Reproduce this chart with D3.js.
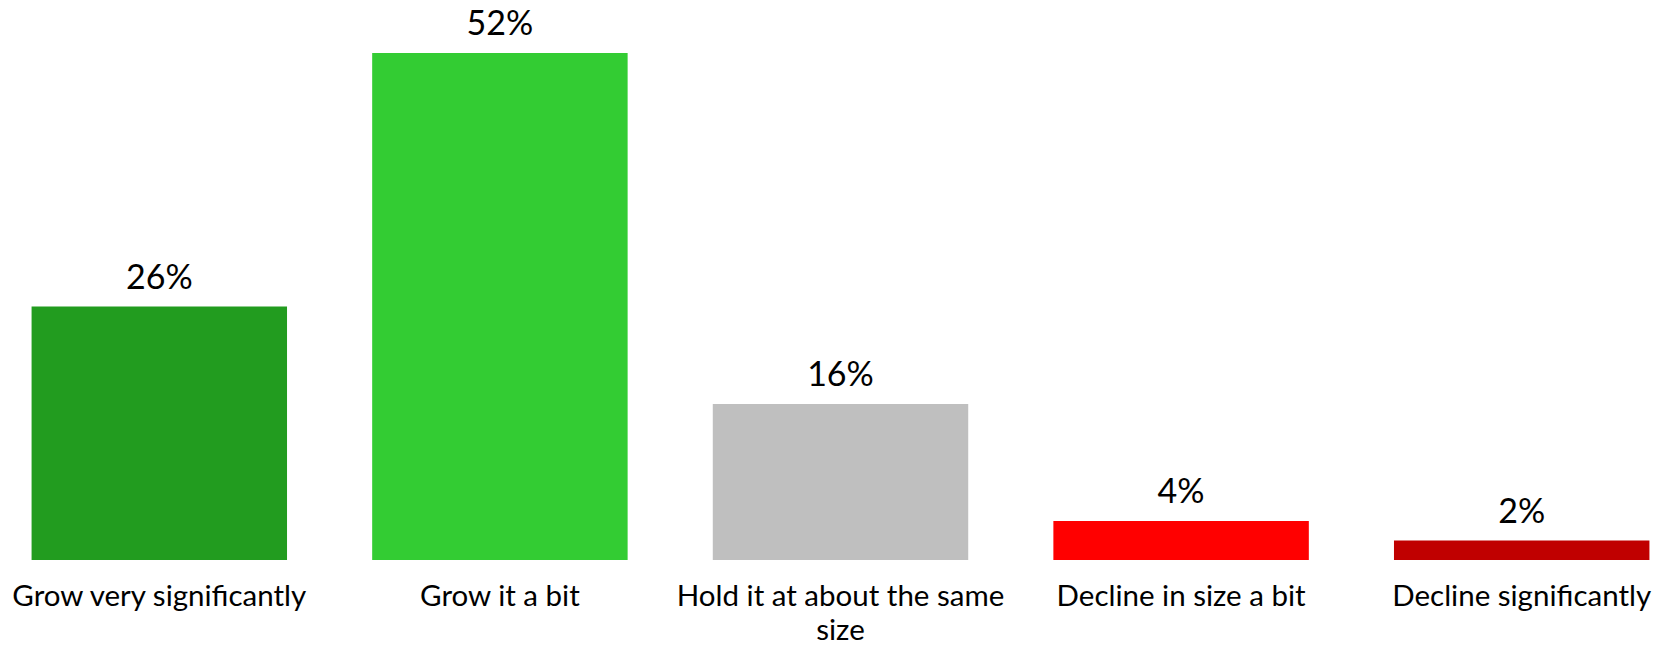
<!DOCTYPE html>
<html>
<head>
<meta charset="utf-8">
<script src="https://cdn.jsdelivr.net/npm/d3@7"></script>
<style>
  html, body { margin: 0; padding: 0; background: #fff; }
  svg { display: block; }
  text { font-family: Lato, "Open Sans", sans-serif; fill: #000; }
</style>
</head>
<body>
<svg id="chart" width="1662" height="646"></svg>
<script>
const categories = ["Grow very significantly", "Grow it a bit", "Hold it at about the same size", "Decline in size a bit", "Decline significantly"];
const values = [26, 52, 16, 4, 2];
const valueLabels = ["26%", "52%", "16%", "4%", "2%"];
const colors = ["#229C1F", "#33CC33", "#BFBFBF", "#FF0000", "#C00000"];

const W = 1662, H = 646;
const svg = d3.select("#chart");

const x = d3.scaleBand()
  .domain(categories)
  .range([-11, 1692])
  .paddingInner(0.25)
  .paddingOuter(0.125);

const baseY = 560;
const y = d3.scaleLinear()
  .domain([0, 52])
  .range([baseY, 53]);

const data = categories.map((c, i) => ({ c, v: values[i], label: valueLabels[i], color: colors[i] }));

svg.append("g").selectAll("rect")
  .data(data)
  .join("rect")
  .attr("x", d => x(d.c))
  .attr("y", d => y(d.v))
  .attr("width", x.bandwidth())
  .attr("height", d => baseY - y(d.v))
  .attr("fill", d => d.color);

svg.append("g").selectAll("text")
  .data(data)
  .join("text")
  .attr("x", d => x(d.c) + x.bandwidth() / 2)
  .attr("y", d => y(d.v) - 18)
  .attr("text-anchor", "middle")
  .style("font-size", "34px")
  .text(d => d.label);

// category axis labels with wrapping
const axis = d3.axisBottom(x).tickSize(0).tickPadding(0);
const gAxis = svg.append("g").attr("transform", `translate(0,${baseY})`).call(axis);
gAxis.select(".domain").remove();
gAxis.selectAll(".tick text")
  .style("font-size", "29.5px")
  .style("font-family", "Lato, 'Open Sans', sans-serif")
  .attr("fill", "#000")
  .attr("dy", null)
  .attr("y", 46)
  .each(function() { wrap(d3.select(this), x.step() - 4); });

function wrap(text, width) {
  const words = text.text().split(/\s+/);
  text.text(null);
  let line = [];
  let lineNo = 0;
  let tspan = text.append("tspan").attr("x", 0).attr("y", 46);
  for (const w of words) {
    line.push(w);
    tspan.text(line.join(" "));
    if (tspan.node().getComputedTextLength() > width && line.length > 1) {
      line.pop();
      tspan.text(line.join(" "));
      line = [w];
      lineNo++;
      tspan = text.append("tspan").attr("x", 0).attr("y", 46 + lineNo * 34).text(w);
    }
  }
}
</script>
</body>
</html>
